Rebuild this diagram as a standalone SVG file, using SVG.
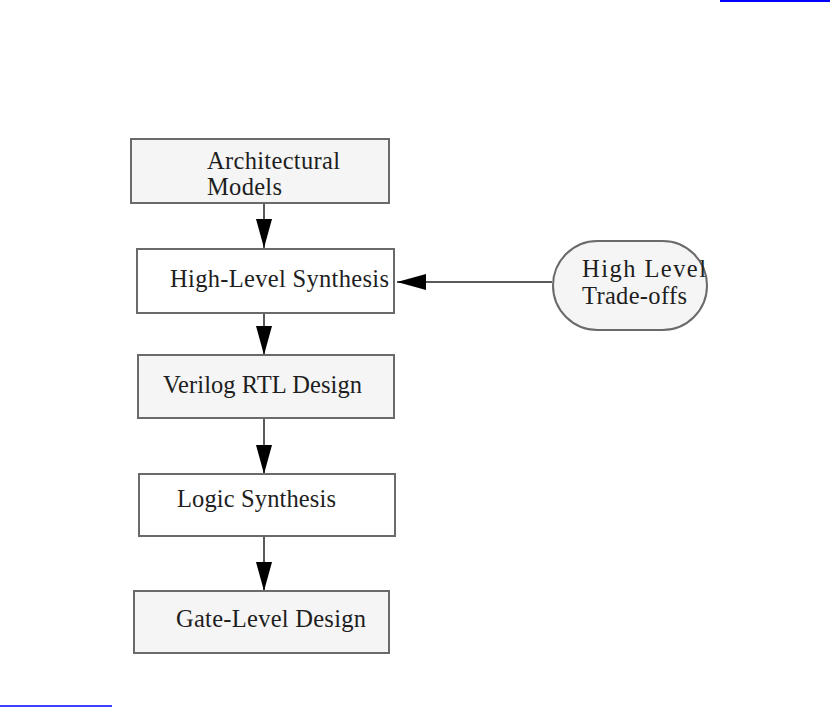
<svg xmlns="http://www.w3.org/2000/svg" width="830" height="707" viewBox="0 0 830 707">
<defs>
<style>
.box{stroke:#6a6a6a;stroke-width:2}
.g{fill:#f5f5f5}
.w{fill:#ffffff}
.t{font-family:"Liberation Serif","DejaVu Serif",serif;font-size:24.5px;fill:#1e1e1e}
.c{stroke:#222;stroke-width:1.5;fill:none}
</style>
<marker id="ah" markerUnits="userSpaceOnUse" markerWidth="30" markerHeight="18" refX="29" refY="8" orient="auto" viewBox="0 0 30 16">
<path d="M0,0 L29,8 L0,16 Z" fill="#000"/>
</marker>
</defs>
<rect width="830" height="707" fill="#fff"/>
<line x1="720" y1="1" x2="830" y2="1" stroke="#0000ff" stroke-width="2"/>
<line x1="0" y1="706" x2="112" y2="706" stroke="#0000ff" stroke-width="1.5"/>
<g id="connectors">
<line class="c" x1="264" y1="203" x2="264" y2="248" marker-end="url(#ah)"/>
<line class="c" x1="264" y1="313" x2="264" y2="355" marker-end="url(#ah)"/>
<line class="c" x1="264" y1="418" x2="264" y2="474" marker-end="url(#ah)"/>
<line class="c" x1="264" y1="536" x2="264" y2="591" marker-end="url(#ah)"/>
<line class="c" x1="552" y1="282" x2="397" y2="282" marker-end="url(#ah)"/>
</g>
<g id="architectural-models">
<rect class="box g" x="131" y="139" width="258" height="64"/>
<text class="t" x="207" y="169" textLength="133">Architectural</text>
<text class="t" x="207" y="195" textLength="75">Models</text>
</g>
<g id="high-level-synthesis">
<rect class="box w" x="137" y="249" width="257" height="64"/>
<text class="t" x="170" y="287" textLength="219">High-Level Synthesis</text>
</g>
<g id="verilog-rtl-design">
<rect class="box g" x="138" y="355" width="256" height="63"/>
<text class="t" x="163" y="393" textLength="199">Verilog RTL Design</text>
</g>
<g id="logic-synthesis">
<rect class="box w" x="139" y="474" width="256" height="62"/>
<text class="t" x="177" y="507" textLength="159">Logic Synthesis</text>
</g>
<g id="gate-level-design">
<rect class="box g" x="134" y="591" width="255" height="62"/>
<text class="t" x="176" y="627" textLength="190">Gate-Level Design</text>
</g>
<g id="high-level-trade-offs">
<rect class="box g" x="553" y="241" width="154" height="89" rx="44.5" ry="44.5"/>
<text class="t" x="582" y="277" textLength="124">High Level</text>
<text class="t" x="582" y="304" textLength="105">Trade-offs</text>
</g>
</svg>
